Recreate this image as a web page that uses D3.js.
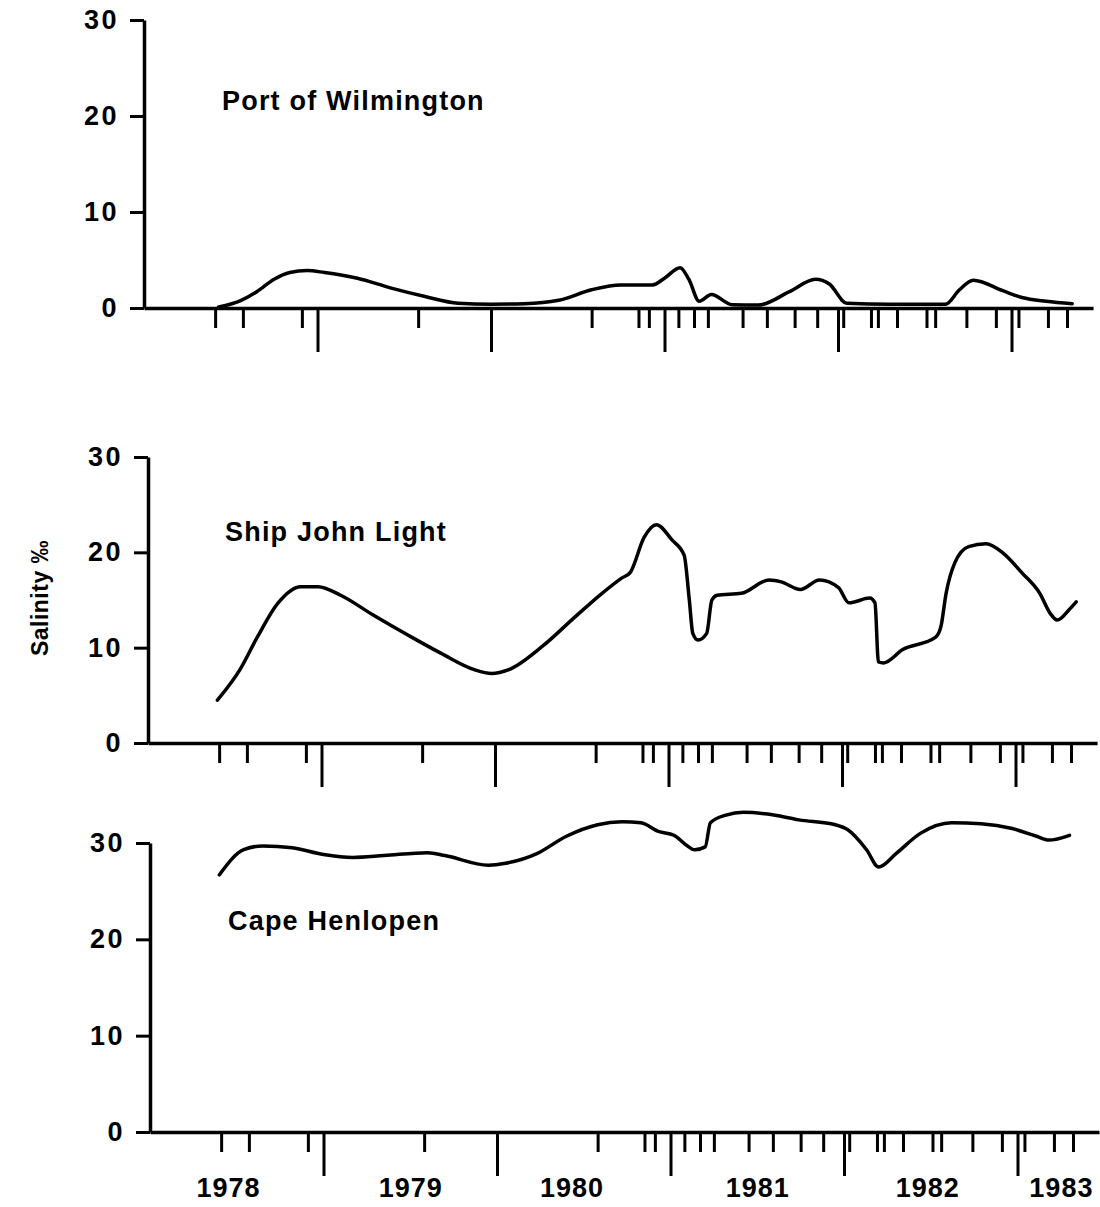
<!DOCTYPE html>
<html>
<head>
<meta charset="utf-8">
<script src="https://cdn.jsdelivr.net/npm/d3@7"></script>
<style>
  body { margin: 0; background: #fff; }
  svg text { font-family: "Liberation Sans", Arial, Helvetica, sans-serif; font-weight: bold; fill: #000; }
</style>
</head>
<body>
<div id="chart"></div>
<script>
// salinity (per mil), [decimal year, value]
const wilmington = [
  [1978.43, 0.1], [1978.56, 0.8], [1978.65, 1.7], [1978.75, 3.0], [1978.84, 3.7],
  [1978.94, 3.9], [1979.04, 3.7], [1979.23, 3.1], [1979.42, 2.1], [1979.62, 1.2],
  [1979.81, 0.5], [1980.00, 0.4], [1980.19, 0.45], [1980.39, 0.8], [1980.58, 1.9],
  [1980.75, 2.4], [1980.93, 2.4], [1981.00, 3.1], [1981.09, 4.2], [1981.14, 3.0],
  [1981.20, 0.7], [1981.27, 1.4], [1981.39, 0.35], [1981.54, 0.3], [1981.72, 1.7],
  [1981.87, 3.0], [1981.95, 2.5], [1982.05, 0.5], [1982.30, 0.4], [1982.62, 0.4],
  [1982.70, 1.9], [1982.78, 2.9], [1982.95, 1.8], [1983.06, 1.1], [1983.20, 0.7],
  [1983.35, 0.45]
];

const shipJohn = [
  [1978.40, 4.5], [1978.53, 7.7], [1978.63, 11.1], [1978.75, 14.7], [1978.88, 16.4],
  [1978.98, 16.4], [1979.11, 15.5], [1979.30, 13.4], [1979.50, 11.3], [1979.69, 9.4],
  [1979.88, 7.7], [1979.98, 7.3], [1980.08, 7.7], [1980.27, 10.1], [1980.46, 13.2],
  [1980.61, 15.6], [1980.73, 17.3], [1980.78, 17.9], [1980.86, 21.6], [1980.93, 22.9],
  [1981.02, 21.3], [1981.09, 19.7], [1981.12, 15.0], [1981.14, 11.5], [1981.17, 10.8],
  [1981.22, 11.5], [1981.25, 15.0], [1981.28, 15.5], [1981.42, 15.7], [1981.58, 17.1],
  [1981.65, 16.9], [1981.76, 16.1], [1981.87, 17.1], [1981.98, 16.3], [1982.04, 14.7],
  [1982.16, 15.2], [1982.19, 14.7], [1982.21, 8.5], [1982.24, 8.4], [1982.35, 9.8],
  [1982.54, 11.1], [1982.57, 12.2], [1982.60, 15.7], [1982.65, 18.9], [1982.73, 20.6],
  [1982.83, 20.9], [1982.93, 19.9], [1983.04, 17.8], [1983.14, 15.7], [1983.20, 13.6],
  [1983.24, 12.9], [1983.31, 14.0], [1983.35, 14.8]
];

const capeHenlopen = [
  [1978.40, 26.7], [1978.54, 29.3], [1978.65, 29.7], [1978.82, 29.5], [1979.00, 28.8],
  [1979.17, 28.5], [1979.35, 28.7], [1979.60, 29.0], [1979.70, 28.7], [1979.95, 27.7],
  [1980.05, 27.9], [1980.23, 28.9], [1980.40, 30.7], [1980.58, 31.9], [1980.72, 32.2],
  [1980.83, 32.1], [1980.93, 31.2], [1981.02, 30.8], [1981.09, 29.8], [1981.14, 29.3],
  [1981.20, 29.6], [1981.23, 32.1], [1981.32, 32.9], [1981.42, 33.2], [1981.56, 33.0],
  [1981.74, 32.4], [1981.95, 31.9], [1982.02, 31.4], [1982.13, 29.3], [1982.20, 27.5],
  [1982.30, 28.9], [1982.44, 31.0], [1982.62, 32.1], [1982.79, 32.0], [1982.97, 31.5],
  [1983.11, 30.7], [1983.18, 30.3], [1983.30, 30.8]
];

// sampling dates (short ticks) and year boundaries (long ticks)
const sampleDates = [
  1978.41, 1978.57, 1978.91, 1979.58, 1980.58, 1980.85, 1980.91, 1981.08, 1981.17,
  1981.25, 1981.45, 1981.59, 1981.75, 1981.88, 1982.03, 1982.19, 1982.23, 1982.34,
  1982.51, 1982.56, 1982.74, 1982.91, 1983.04, 1983.21, 1983.32
];
const yearBreaks = [1979, 1980, 1981, 1982, 1983];
const yearLabels = ["1978", "1979", "1980", "1981", "1982", "1983"];
const yearLabelPos = [1978.45, 1979.5, 1980.43, 1981.5, 1982.48, 1983.25];
const salinityTicks = [0, 10, 20, 30];

const stations = ["Port of Wilmington", "Ship John Light", "Cape Henlopen"];
const stationData = [wilmington, shipJohn, capeHenlopen];

// panel placement on the page
const panels = [
  { left: 144, top: 20, bottom: 308, titleX: 222, titleY: 110 },
  { left: 148, top: 457, bottom: 743, titleX: 225, titleY: 541 },
  { left: 150, top: 843, bottom: 1132, titleX: 228, titleY: 930 }
];

const W = 1100, H = 1207;
const pxPerYear = 173.5;
const x = d3.scaleLinear()
  .domain([1978, 1983.47])
  .range([0, pxPerYear * 5.47]);

const svg = d3.select("#chart").append("svg")
  .attr("width", W)
  .attr("height", H);

svg.append("rect").attr("width", W).attr("height", H).attr("fill", "#fff");

panels.forEach((p, i) => {
  const y = d3.scaleLinear()
    .domain([0, 30])
    .range([p.bottom - p.top, 0]);

  const g = svg.append("g")
    .attr("transform", `translate(${p.left},${p.top})`);

  // y axis
  const ya = g.append("g")
    .call(d3.axisLeft(y).tickValues(salinityTicks).tickSize(14).tickPadding(11).tickSizeOuter(0));
  ya.select(".domain").attr("stroke-width", 3.5);
  ya.selectAll(".tick line").attr("stroke-width", 3);
  ya.selectAll(".tick text")
    .style("font-size", "27px")
    .style("letter-spacing", "2.5px");

  // sampling ticks with the baseline
  const xa = g.append("g")
    .attr("transform", `translate(0,${y(0)})`)
    .call(d3.axisBottom(x).tickValues(sampleDates).tickSize(20).tickFormat("").tickSizeOuter(0));
  xa.select(".domain").attr("stroke-width", 3.5);
  xa.selectAll(".tick line").attr("stroke-width", 3);

  // year boundary ticks
  const yb = g.append("g")
    .attr("transform", `translate(0,${y(0)})`)
    .call(d3.axisBottom(x).tickValues(yearBreaks).tickSize(44).tickFormat(""));
  yb.select(".domain").remove();
  yb.selectAll(".tick line").attr("stroke-width", 3);

  // salinity curve
  const line = d3.line()
    .x(d => x(d[0]))
    .y(d => y(d[1]))
    .curve(d3.curveMonotoneX);

  g.append("path")
    .datum(stationData[i])
    .attr("fill", "none")
    .attr("stroke", "#000")
    .attr("stroke-width", 3.5)
    .attr("stroke-linejoin", "round")
    .attr("stroke-linecap", "round")
    .attr("d", line);

  svg.append("text")
    .attr("x", p.titleX)
    .attr("y", p.titleY)
    .style("font-size", "27px")
    .style("letter-spacing", "1.2px")
    .text(stations[i]);

  // year labels under the last panel only
  if (i === panels.length - 1) {
    const yl = g.append("g")
      .attr("transform", `translate(0,${y(0)})`)
      .call(d3.axisBottom(x).tickValues(yearLabelPos).tickSize(0).tickPadding(46)
        .tickFormat((d, k) => yearLabels[k]));
    yl.select(".domain").remove();
    yl.selectAll(".tick text")
      .style("font-size", "27px")
      .style("letter-spacing", "1px");
  }
});

svg.append("text")
  .attr("transform", "translate(48,598) rotate(-90)")
  .attr("text-anchor", "middle")
  .style("font-size", "23px")
  .style("letter-spacing", "0.5px")
  .text("Salinity ‰");
</script>
</body>
</html>
